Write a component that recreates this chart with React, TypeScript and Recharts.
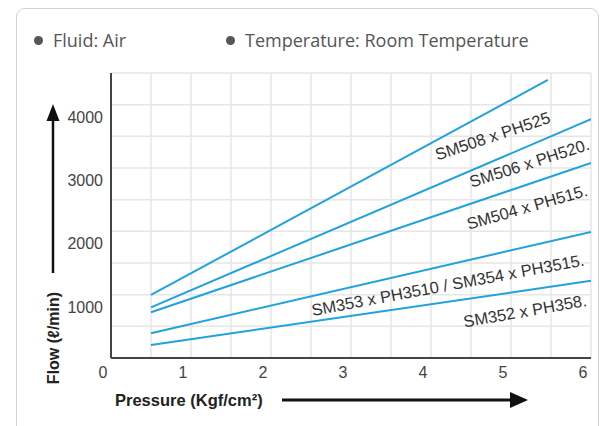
import React from 'react';
import { LineChart, Line, XAxis, YAxis, CartesianGrid, ReferenceDot } from 'recharts';

// Grid / tick values
const xGridTicks = [0, 0.5, 1, 1.5, 2, 2.5, 3, 3.5, 4, 4.5, 5, 5.5, 6];
const yGridTicks = [0, 500, 1000, 1500, 2000, 2500, 3000, 3500, 4000, 4500];
const xTickLabels = [0, 1, 2, 3, 4, 5, 6];
const yTickLabels = [1000, 2000, 3000, 4000];

// Series (pressure Kgf/cm², flow l/min)
const sm508 = [{ x: 0.5, y: 995 }, { x: 5.46, y: 4390 }];
const sm506 = [{ x: 0.5, y: 800 }, { x: 6, y: 3770 }];
const sm504 = [{ x: 0.5, y: 722 }, { x: 6, y: 3080 }];
const sm353 = [{ x: 0.5, y: 392 }, { x: 6, y: 1990 }];
const sm352 = [{ x: 0.5, y: 205 }, { x: 6, y: 1218 }];

const seriesNames = [
  'SM508 x PH525',
  'SM506 x PH520.',
  'SM504 x PH515.',
  'SM353 x PH3510 / SM354 x PH3515.',
  'SM352 x PH358.',
];
const allSeries = [sm508, sm506, sm504, sm353, sm352];

// Annotation anchors (data coordinates) and rotations
const labelAnchorX = [4.77, 5.23, 5.2, 4.21, 5.175];
const labelAnchorY = [3505, 3079, 2384, 1153, 742];
const labelAngle = [-18.5, -18, -16, -10.5, -10];

const legendItems = ['Fluid: Air', 'Temperature: Room Temperature'];

const LINE_COLOR = '#20a2dd';
const ARIAL = '"Liberation Sans", Arial, sans-serif';

const XTick = (props: any) => {
  const { x, y, payload } = props;
  if (!xTickLabels.includes(payload.value)) return null;
  return (
    <text x={x - 8} y={y} dy={12} textAnchor="middle" fontFamily={ARIAL} fontSize={16} fill="#444">
      {payload.value}
    </text>
  );
};

const YTick = (props: any) => {
  const { x, y, payload } = props;
  if (!yTickLabels.includes(payload.value)) return null;
  return (
    <text x={x} y={y} dy={18} textAnchor="end" fontFamily={ARIAL} fontSize={16} fill="#444">
      {payload.value}
    </text>
  );
};

export default function App() {
  return (
    <div style={{ position: 'absolute', left: 0, top: 0, width: 603, height: 426, overflow: 'hidden', background: '#fff' }}>
      <div
        style={{
          position: 'absolute',
          left: 16,
          top: 8,
          width: 583,
          height: 520,
          border: '1.5px solid #d2d2d2',
          borderRadius: 9,
          boxSizing: 'border-box',
        }}
      />
      {legendItems.map((t, i) => (
        <div
          key={t}
          style={{
            position: 'absolute',
            left: i === 0 ? 34 : 226,
            top: 28,
            fontFamily: '"Open Sans", sans-serif',
            fontSize: 18,
            color: '#555',
            whiteSpace: 'nowrap',
            display: 'flex',
            alignItems: 'center',
            lineHeight: '24px',
          }}
        >
          <span style={{ display: 'inline-block', width: 9, height: 9, borderRadius: 5, background: '#555', marginRight: 10 }} />
          {t}
        </div>
      ))}
      <div style={{ position: 'absolute', left: 0, top: 0 }}>
        <LineChart width={603} height={426} margin={{ top: 73, right: 12, bottom: 38, left: 51 }}>
          <CartesianGrid stroke="#e6e6e6" strokeWidth={1.5} />
          <XAxis
            type="number"
            dataKey="x"
            domain={[0, 6]}
            ticks={xGridTicks}
            interval={0}
            allowDataOverflow
            tickLine={false}
            axisLine={{ stroke: '#444', strokeWidth: 2 }}
            tick={<XTick />}
            height={30}
          />
          <YAxis
            type="number"
            dataKey="y"
            domain={[0, 4500]}
            ticks={yGridTicks}
            interval={0}
            allowDataOverflow
            tickLine={false}
            axisLine={{ stroke: '#444', strokeWidth: 2 }}
            tick={<YTick />}
            width={60}
          />
          {allSeries.map((d, i) => (
            <Line
              key={seriesNames[i]}
              data={d}
              dataKey="y"
              type="linear"
              stroke={LINE_COLOR}
              strokeWidth={2}
              dot={false}
              isAnimationActive={false}
            />
          ))}
          {seriesNames.map((name, i) => (
            <ReferenceDot
              key={'lbl' + i}
              x={labelAnchorX[i]}
              y={labelAnchorY[i]}
              r={0}
              ifOverflow="visible"
              shape={(p: any) => (
                <text
                  x={p.cx}
                  y={p.cy}
                  dy="0.35em"
                  textAnchor="middle"
                  transform={`rotate(${labelAngle[i]} ${p.cx} ${p.cy})`}
                  fontFamily={ARIAL}
                  fontSize={16.5}
                  fill="#333"
                >
                  {name}
                </text>
              )}
            />
          ))}
        </LineChart>
      </div>
      <svg width={603} height={426} style={{ position: 'absolute', left: 0, top: 0, pointerEvents: 'none' }}>
        <line x1={53} y1={273} x2={53} y2={118} stroke="#111" strokeWidth={2.5} />
        <polygon points="53,104 46.5,121 59.5,121" fill="#111" />
        <text
          x={53}
          y={338}
          dy="0.35em"
          textAnchor="middle"
          transform="rotate(-90 53 338)"
          fontFamily={ARIAL}
          fontWeight="bold"
          fontSize={16}
          fill="#222"
        >
          Flow (ℓ/min)
        </text>
        <text x={115} y={406} fontFamily={ARIAL} fontWeight="bold" fontSize={16.5} fill="#222">
          Pressure (Kgf/cm²)
        </text>
        <line x1={282} y1={400} x2={514} y2={400} stroke="#111" strokeWidth={3} />
        <polygon points="528,400 510,392 510,408" fill="#111" />
      </svg>
    </div>
  );
}
